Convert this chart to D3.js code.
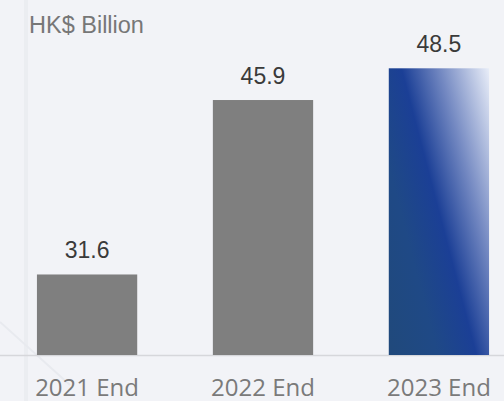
<!DOCTYPE html>
<html>
<head>
<meta charset="utf-8">
<script src="https://cdn.jsdelivr.net/npm/d3@7"></script>
<style>
html,body{margin:0;padding:0;background:#f2f3f7;overflow:hidden;}
svg{display:block;}
</style>
</head>
<body>
<svg id="chart" width="504" height="401"></svg>
<script>
const categories = ["2021 End", "2022 End", "2023 End"];
const values = [31.6, 45.9, 48.5];
const valueLabels = ["31.6", "45.9", "48.5"];
const unitLabel = "HK$ Billion";

const W = 504, H = 401;
const svg = d3.select("#chart");

svg.append("rect").attr("width", W).attr("height", H).attr("fill", "#f2f3f7");
// faint decorative background strokes
svg.append("rect").attr("x", 24).attr("y", 0).attr("width", 4).attr("height", H).attr("fill", "#ebedf1");
svg.append("line").attr("x1", 0).attr("y1", 322).attr("x2", 70).attr("y2", 385)
  .attr("stroke", "#e8eaef").attr("stroke-width", 2);

const baseY = 355;
const x = d3.scaleBand().domain(categories).range([0, 526]).paddingInner(0.43).paddingOuter(0.21);
const y = d3.scaleLinear().domain([25, 50]).range([baseY, baseY - 25 * 12.2]);

// gradient for the last bar
const defs = svg.append("defs");
const lastCat = categories[categories.length - 1];
const bx0 = x(lastCat), bx1 = x(lastCat) + x.bandwidth();
const byTop = y(values[values.length - 1]), byBot = y.range()[0];
const dir = [0.967, -0.253];
const L = (bx1 - bx0) * dir[0] + (byTop - byBot) * dir[1];
const grad = defs.append("linearGradient").attr("id", "g3")
  .attr("gradientUnits", "userSpaceOnUse")
  .attr("x1", bx0).attr("y1", byBot)
  .attr("x2", bx0 + dir[0] * L).attr("y2", byBot + dir[1] * L);
[[0, "#20497b"], [0.28, "#1f4986"], [0.5, "#1b3f96"], [0.72, "#7489c2"], [1, "#e8edf8"]]
  .forEach(([o, c]) => grad.append("stop").attr("offset", o).attr("stop-color", c));

// baseline
svg.append("line").attr("x1", 0).attr("x2", W).attr("y1", baseY + 0.5).attr("y2", baseY + 0.5)
  .attr("stroke", "#d6d7db").attr("stroke-width", 1.5);

svg.selectAll("rect.bar").data(values).enter().append("rect")
  .attr("class", "bar")
  .attr("x", (d, i) => x(categories[i]))
  .attr("width", x.bandwidth())
  .attr("y", d => y(d))
  .attr("height", d => baseY - y(d))
  .attr("fill", (d, i) => i === values.length - 1 ? "url(#g3)" : "#7f7f7f");

svg.selectAll("text.val").data(values).enter().append("text")
  .attr("class", "val")
  .attr("x", (d, i) => x(categories[i]) + x.bandwidth() / 2)
  .attr("y", d => y(d) - 16)
  .attr("text-anchor", "middle")
  .attr("font-family", "'Liberation Sans', Arial, sans-serif")
  .attr("font-size", 23)
  .attr("fill", "#3a3a3a")
  .text((d, i) => valueLabels[i]);

svg.selectAll("text.cat").data(categories).enter().append("text")
  .attr("class", "cat")
  .attr("x", d => x(d) + x.bandwidth() / 2)
  .attr("y", 396)
  .attr("text-anchor", "middle")
  .attr("font-family", "'Open Sans', 'Noto Sans', sans-serif")
  .attr("font-size", 24)
  .attr("fill", "#7a7a7a")
  .text(d => d);

svg.append("text")
  .attr("x", 29).attr("y", 33)
  .attr("font-family", "'Liberation Sans', Arial, sans-serif")
  .attr("font-size", 23.5)
  .attr("fill", "#777777")
  .text(unitLabel);
</script>
</body>
</html>
